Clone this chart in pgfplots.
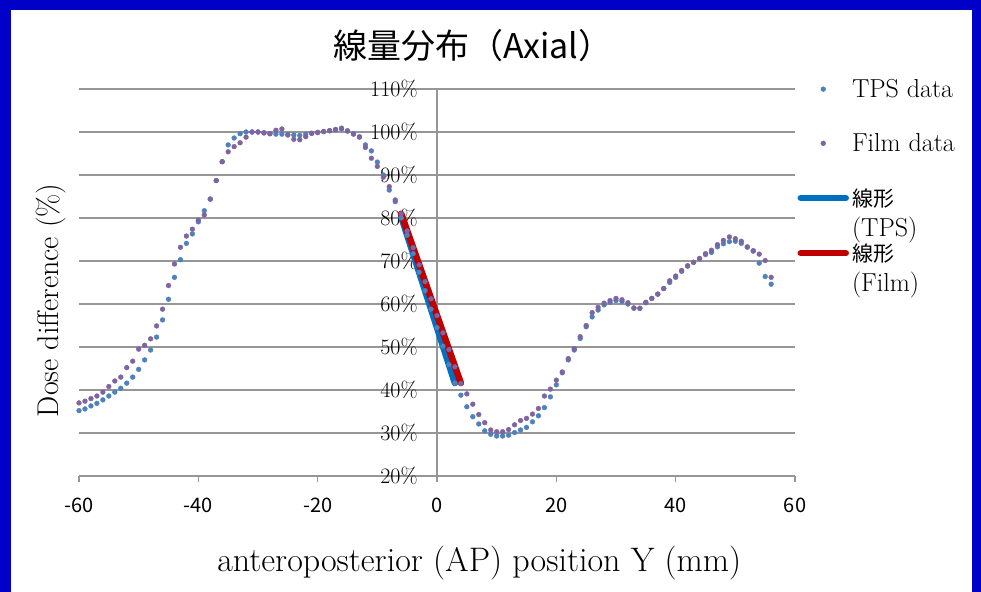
\documentclass[border=0pt]{standalone}
\usepackage{fontspec}
\usepackage{pgfplots}
\pgfplotsset{compat=1.18}
\usepackage{pgfplotstable}
\newfontfamily\cjk{Noto Sans CJK JP}
\definecolor{frameblue}{RGB}{0,0,200}
\definecolor{tpsblue}{RGB}{79,129,189}
\definecolor{filmpurple}{RGB}{128,100,162}
\definecolor{lintps}{RGB}{0,112,192}
\definecolor{linfilm}{RGB}{192,0,0}
\definecolor{gridgray}{RGB}{150,150,150}
\pgfplotsset{
  markleg/.style={legend image code/.code={\draw[##1] plot coordinates {(22.5bp,0bp)};}},
  lineleg/.style={legend image code/.code={\draw[##1] (0bp,0bp) -- (45bp,0bp);}},
}

\pgfplotstableread{
x y
-60 35.2
-59 35.6
-58 36.3
-57 36.9
-56 37.7
-55 38.6
-54 39.5
-53 40.4
-52 41.6
-51 43.0
-50 44.8
-49 47.0
-48 49.3
-47 52.3
-46 56.3
-45 61.1
-44 66.2
-43 70.3
-42 74.1
-41 76.3
-40 79.1
-39 81.7
-38 84.4
-37 88.7
-36 93.1
-35 97.0
-34 98.6
-33 99.6
-32 100.0
-31 100.0
-30 100.0
-29 99.8
-28 99.6
-27 99.5
-26 99.5
-25 99.4
-24 99.3
-23 99.2
-22 99.5
-21 99.7
-20 99.9
-19 100.1
-18 100.3
-17 100.5
-16 100.7
-15 100.3
-14 99.6
-13 98.9
-12 97.0
-11 95.6
-10 93.0
-9 90.0
-8 86.5
-7 83.8
-6 80.0
-5 76.0
-4 71.7
-3 67.4
-2 63.1
-1 58.8
0 54.5
1 50.2
2 45.9
3 41.6
4 38.8
5 36.1
6 33.8
7 32.1
8 30.5
9 29.7
10 29.3
11 29.3
12 29.5
13 30.1
14 30.7
15 31.3
16 32.6
17 34.0
18 35.9
19 38.4
20 41.2
21 44.0
22 47.0
23 49.3
24 52.0
25 54.7
26 57.0
27 58.6
28 59.8
29 60.4
30 60.8
31 60.6
32 60.0
33 59.0
34 59.0
35 60.3
36 61.3
37 62.3
38 63.6
39 65.0
40 66.2
41 67.6
42 68.8
43 69.7
44 70.5
45 71.5
46 72.0
47 73.3
48 74.0
49 74.5
50 74.6
51 74.1
52 73.2
53 72.3
54 69.5
55 66.4
56 64.6
}\tpsdata

\pgfplotstableread{
x y
-60 37.0
-59 37.4
-58 38.0
-57 38.6
-56 39.5
-55 40.8
-54 42.1
-53 43.0
-52 45.2
-51 46.7
-50 49.5
-49 50.4
-48 51.9
-47 54.9
-46 58.8
-45 64.3
-44 69.3
-43 73.2
-42 75.8
-41 77.4
-40 79.5
-39 80.7
-38 84.4
-37 88.7
-36 93.1
-35 95.4
-34 96.6
-33 97.5
-32 98.8
-31 100.0
-30 100.0
-29 99.8
-28 99.6
-27 100.4
-26 100.7
-25 99.3
-24 98.3
-23 98.2
-22 98.9
-21 99.7
-20 99.9
-19 100.1
-18 100.3
-17 100.6
-16 100.9
-15 100.2
-14 99.5
-13 98.8
-12 96.4
-11 93.9
-10 92.0
-9 89.5
-8 87.3
-7 84.2
-6 81.0
-5 77.0
-4 73.1
-3 69.1
-2 65.2
-1 61.2
0 57.3
1 53.3
2 49.4
3 45.4
4 41.5
5 39.1
6 36.7
7 34.3
8 32.4
9 30.7
10 30.3
11 30.3
12 30.8
13 31.9
14 32.9
15 33.4
16 34.4
17 35.7
18 38.6
19 40.2
20 42.3
21 44.2
22 47.3
23 49.6
24 52.4
25 55.0
26 58.0
27 59.2
28 60.2
29 60.8
30 61.3
31 61.0
32 60.3
33 59.1
34 59.0
35 60.4
36 61.3
37 62.3
38 63.6
39 65.4
40 66.5
41 67.8
42 68.9
43 69.7
44 70.6
45 71.7
46 72.5
47 73.8
48 74.8
49 75.6
50 75.2
51 74.6
52 73.3
53 72.4
54 71.6
55 70.1
56 66.2
}\filmdata

\newcommand{\legone}[1]{\smash{\raisebox{-0.36em}{#1}}}
\newcommand{\legtwo}[2]{\smash{\raisebox{-0.36em}{\vtop{\baselineskip=30bp\hbox{#1}\hbox{#2}}}}}

\begin{document}
\begin{tikzpicture}
\useasboundingbox (0,0) rectangle (981bp,592bp);
\fill[frameblue] (0,0) rectangle (981bp,592bp);
\fill[white] (11bp,0bp) rectangle (972bp,582bp);
\begin{axis}[
  at={(79bp,116bp)}, anchor=south west,
  scale only axis, width=716bp, height=387bp,
  xmin=-60, xmax=60, ymin=20, ymax=110,
  clip=false,
  axis x line=bottom, axis y line=middle,
  axis line style={-, draw=gridgray, line width=1.2bp},
  hide obscured x ticks=false, hide obscured y ticks=false,
  xtick={-60,-40,...,60},
  xticklabels={-60,-40,-20,0,20,40,60},
  ytick={20,30,...,110},
  yticklabels={20\%,30\%,40\%,50\%,60\%,70\%,80\%,90\%,100\%,110\%},
  tick align=outside,
  major tick length=6bp,
  xtick style={draw=gridgray, line width=1.2bp},
  ytick style={draw=none},
  ymajorgrids,
  grid style={draw=gridgray, line width=1.2bp},
  xticklabel style={font=\cjk\fontsize{20bp}{24bp}\selectfont, yshift=-12bp},
  yticklabel style={font=\fontsize{22bp}{26bp}\selectfont, anchor=east, xshift=-10bp},
  title={\cjk 線量分布（Axial）},
  title style={at={(axis description cs:0.55,1.098)}, anchor=center, font=\fontsize{34bp}{40bp}\selectfont},
  xlabel={anteroposterior (AP) position Y (mm)},
  every axis x label/.style={at={(axis description cs:0.559,-0.225)}, anchor=center, font=\fontsize{34bp}{40bp}\selectfont},
  ylabel={Dose difference (\%)},
  every axis y label/.style={at={(axis description cs:-0.039,0.454)}, anchor=center, rotate=90, font=\fontsize{30bp}{34bp}\selectfont},
  legend style={draw=none, fill=none, inner sep=0pt, outer sep=0pt,
    at={(axis description cs:1.0035,1.0067)}, anchor=north west,
    row sep=48.7bp, column sep=1bp,
    cells={anchor=west, inner sep=1bp},
    font=\fontsize{26bp}{30bp}\selectfont},
]
\addplot[only marks, mark=*, mark size=2.4bp, color=tpsblue, markleg]
  table[x=x,y=y] {\tpsdata};
\addlegendentry{\legone{TPS data}}
\addplot[only marks, mark=*, mark size=2.4bp, color=filmpurple, markleg]
  table[x=x,y=y] {\filmdata};
\addlegendentry{\legone{Film data}}
\addplot[no marks, color=lintps, line width=6.5bp, line cap=round, lineleg]
  coordinates {(-6,80.3) (3,41.6)};
\addlegendentry{\legtwo{\cjk\fontsize{21bp}{24bp}\selectfont 線形}{(TPS)}}
\addplot[no marks, color=linfilm, line width=6.5bp, line cap=round, lineleg]
  coordinates {(-6,81.0) (4,41.6)};
\addlegendentry{\legtwo{\cjk\fontsize{21bp}{24bp}\selectfont 線形}{(Film)}}
\end{axis}
\end{tikzpicture}
\end{document}
